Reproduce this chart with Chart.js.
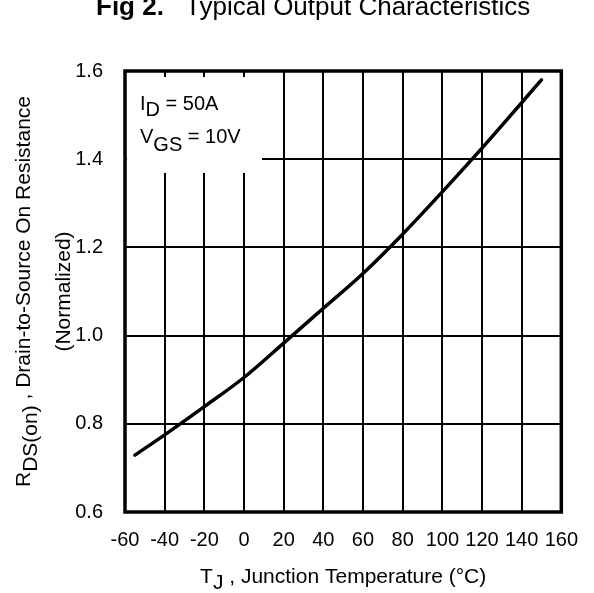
<!DOCTYPE html>
<html>
<head>
<meta charset="utf-8">
<script src="https://cdn.jsdelivr.net/npm/chart.js@4/dist/chart.umd.min.js"></script>
<style>
  html, body { margin: 0; padding: 0; background: #fff; }
  #wrap { width: 594px; height: 593px; }
</style>
</head>
<body>
<div id="wrap"><canvas id="grafica"></canvas></div>
<script>
// Data
const temps = [-55, -40, -20, 0, 20, 40, 60, 80, 100, 120, 140, 150];
const rdsOn = [0.729, 0.775, 0.839, 0.905, 0.983, 1.062, 1.141, 1.230, 1.326, 1.425, 1.528, 1.580];

// Axis ranges and ticks
const xTicks = [-60, -40, -20, 0, 20, 40, 60, 80, 100, 120, 140, 160];
const yTicks = [0.6, 0.8, 1.0, 1.2, 1.4, 1.6];

// Text
const titleBold = "Fig 2.";
const titleRest = "Typical Output Characteristics";
const noteLines = [
  [["I", 0], ["D", 6], [" = 50A", 0]],
  [["V", 0], ["GS", 8], [" = 10V", 0]]
];
const yTitle1 = [["R", 0], ["DS(on)", 7], [" , Drain-to-Source On Resistance", 0]];
const yTitle2 = [["(Normalized)", 0]];
const xTitle = [["T", 0], ["J", 6], [" , Junction Temperature (°C)", 0]];

const FAMILY = "'Liberation Sans', Arial, sans-serif";

// draw text pieces with offset subscripts, centered or left aligned
function drawParts(ctx, parts, x, y, center, size) {
  ctx.font = size + "px " + FAMILY;
  let w = 0;
  parts.forEach(p => { w += ctx.measureText(p[0]).width; });
  let cx = center ? x - w / 2 : x;
  ctx.textAlign = 'left';
  ctx.textBaseline = 'alphabetic';
  parts.forEach(p => {
    ctx.fillText(p[0], cx, y + p[1]);
    cx += ctx.measureText(p[0]).width;
  });
}

const extras = {
  id: 'extras',
  beforeDatasetsDraw(chart) {
    const ctx = chart.ctx;
    const a = chart.chartArea;
    ctx.save();
    // white box behind the note
    ctx.fillStyle = '#fff';
    ctx.fillRect(a.left + 2, 77, 262 - a.left - 2, 96);
    ctx.restore();
  },
  afterDatasetsDraw(chart) {
    const ctx = chart.ctx;
    const a = chart.chartArea;
    ctx.save();
    // frame
    ctx.strokeStyle = '#000';
    ctx.lineWidth = 3.5;
    ctx.strokeRect(a.left, a.top, a.right - a.left, a.bottom - a.top);

    ctx.fillStyle = '#000';
    // note
    drawParts(ctx, noteLines[0], 140, 110, false, 20);
    drawParts(ctx, noteLines[1], 140, 143, false, 20);

    // title
    ctx.font = "bold 26px " + FAMILY;
    ctx.textAlign = 'left';
    ctx.textBaseline = 'alphabetic';
    ctx.fillText(titleBold, 96, 15);
    ctx.font = "26px " + FAMILY;
    ctx.fillText(titleRest, 185, 15);

    // x title
    drawParts(ctx, xTitle, (a.left + a.right) / 2, 583, true, 21);

    // y title
    const cy = (a.top + a.bottom) / 2;
    ctx.translate(0, cy);
    ctx.rotate(-Math.PI / 2);
    drawParts(ctx, yTitle1, 0, 30, true, 21);
    drawParts(ctx, yTitle2, 0, 70, true, 21);
    ctx.restore();
  }
};

const myChart = new Chart(document.getElementById("grafica"), {
  type: 'line',
  data: {
    datasets: [{
      data: temps.map((t, i) => ({ x: t, y: rdsOn[i] })),
      borderColor: '#000',
      borderWidth: 3.5,
      borderCapStyle: 'round',
      pointRadius: 0,
      cubicInterpolationMode: 'monotone',
      fill: false
    }]
  },
  options: {
    responsive: true,
    maintainAspectRatio: false,
    animation: false,
    layout: { padding: { top: 71, right: 27, left: 0, bottom: 0 } },
    plugins: { legend: { display: false }, tooltip: { enabled: false } },
    scales: {
      x: {
        type: 'linear',
        min: xTicks[0],
        max: xTicks[xTicks.length - 1],
        afterBuildTicks: s => { s.ticks = xTicks.map(v => ({ value: v })); },
        afterFit: s => { s.height = 81; },
        ticks: { color: '#000', font: { size: 20, family: FAMILY }, padding: 16, maxRotation: 0, autoSkip: false },
        grid: { color: '#000', lineWidth: 2, drawTicks: false },
        border: { display: false }
      },
      y: {
        min: yTicks[0],
        max: yTicks[yTicks.length - 1],
        afterBuildTicks: s => { s.ticks = yTicks.map(v => ({ value: v })); },
        afterFit: s => { s.width = 125; },
        ticks: { color: '#000', font: { size: 20, family: FAMILY }, padding: 22, callback: v => v.toFixed(1) },
        grid: { color: '#000', lineWidth: 2, drawTicks: false },
        border: { display: false }
      }
    }
  },
  plugins: [extras]
});
</script>
</body>
</html>
